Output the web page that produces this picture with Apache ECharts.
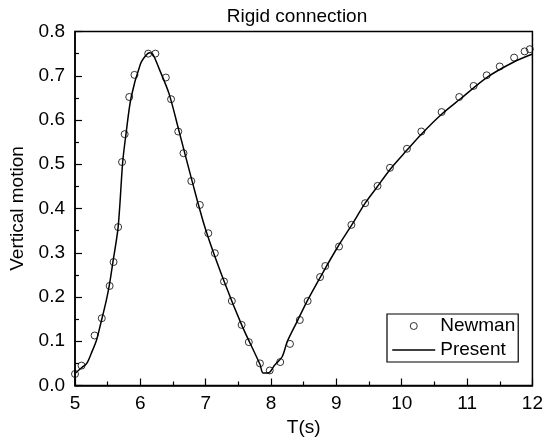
<!DOCTYPE html>
<html>
<head>
<meta charset="utf-8">
<script src="https://cdn.jsdelivr.net/npm/echarts@6/dist/echarts.min.js"></script>
<style>html,body{margin:0;padding:0;background:#fff}#c{width:546px;height:445px}</style>
</head>
<body>
<div id="c"></div>
<script>
const newmanT = [5.00,5.10,5.30,5.41,5.53,5.59,5.66,5.72,5.76,5.83,5.91,6.12,6.23,6.39,6.47,6.58,6.66,6.78,6.91,7.04,7.14,7.28,7.40,7.55,7.66,7.83,7.98,8.14,8.29,8.44,8.56,8.75,8.83,9.04,9.23,9.44,9.63,9.82,10.08,10.30,10.61,10.88,11.10,11.30,11.50,11.72,11.88,11.96];
const newmanV = [0.026,0.045,0.113,0.152,0.225,0.279,0.358,0.505,0.568,0.652,0.702,0.750,0.750,0.696,0.647,0.574,0.525,0.462,0.408,0.344,0.299,0.235,0.191,0.137,0.098,0.050,0.034,0.053,0.094,0.148,0.191,0.245,0.270,0.314,0.363,0.412,0.451,0.492,0.535,0.574,0.618,0.652,0.677,0.701,0.721,0.741,0.755,0.760];
const presentT = [5.00,5.10,5.18,5.25,5.33,5.40,5.48,5.53,5.58,5.66,5.73,5.78,5.86,6.00,6.08,6.14,6.19,6.29,6.44,6.59,6.79,7.00,7.28,7.55,7.83,7.88,7.97,8.05,8.17,8.25,8.40,8.56,8.80,9.02,9.24,9.44,9.62,9.83,10.08,10.30,10.61,10.90,11.30,11.70,12.00];
const presentV = [0.027,0.040,0.050,0.073,0.103,0.144,0.193,0.231,0.279,0.358,0.505,0.568,0.652,0.726,0.745,0.752,0.749,0.715,0.659,0.576,0.463,0.352,0.236,0.137,0.048,0.028,0.029,0.045,0.065,0.100,0.145,0.193,0.257,0.313,0.364,0.412,0.448,0.490,0.532,0.568,0.613,0.648,0.696,0.730,0.749];
const xTicks = [5,6,7,8,9,10,11,12];
const yTicks = ['0.0','0.1','0.2','0.3','0.4','0.5','0.6','0.7','0.8'];

const FONT = 'Liberation Sans, Arial, sans-serif';
const FS = 19;
const chart = echarts.init(document.getElementById('c'), null, {renderer:'canvas'});
const axisCommon = {
  axisLine:{show:true, onZero:false, lineStyle:{color:'#000', width:1.5}},
  axisTick:{show:true, inside:true, length:7, lineStyle:{color:'#000', width:1.2}},
  minorTick:{show:true, splitNumber:2, length:4, lineStyle:{color:'#000', width:1.2}},
  splitLine:{show:false},
  axisLabel:{color:'#000', fontSize:FS, fontFamily:FONT},
  nameTextStyle:{color:'#000', fontSize:FS, fontFamily:FONT}
};
chart.setOption({
  animation:false,
  backgroundColor:'#fff',
  title:{text:'Rigid connection', left:292, top:2, textAlign:'center',
    textStyle:{color:'#000', fontSize:FS, fontWeight:'normal', fontFamily:FONT}},
  grid:{left:75, right:10, top:31.5, bottom:59.5, show:true, borderColor:'#000', borderWidth:1.5, backgroundColor:'transparent'},
  legend:{
    left:387, top:314, orient:'vertical', itemWidth:43, itemHeight:7, itemGap:5,
    padding:[2.5,3,2.5,4.5], borderColor:'#000', borderWidth:1.2, backgroundColor:'#fff',
    textStyle:{color:'#000', fontSize:FS, lineHeight:19, fontFamily:FONT},
    data:[{name:'Newman', icon:'circle', itemStyle:{color:'#fff', borderColor:'#000', borderWidth:1}},
          {name:'Present', itemStyle:{opacity:0}, lineStyle:{color:'#000', width:1.5}}]
  },
  xAxis:Object.assign({}, axisCommon, {
    type:'value', min:5, max:12, interval:1, name:'T(s)', nameLocation:'middle', nameGap:26,
    axisLabel:Object.assign({}, axisCommon.axisLabel, {margin:9, formatter:v=>xTicks.includes(v)?String(v):''})
  }),
  yAxis:Object.assign({}, axisCommon, {
    type:'value', min:0, max:0.8, interval:0.1, name:'Vertical motion', nameLocation:'middle', nameGap:47,
    axisLabel:Object.assign({}, axisCommon.axisLabel, {margin:10, formatter:v=>yTicks[Math.round(v*10)]})
  }),
  series:[
    {name:'Newman', type:'scatter', symbol:'circle', symbolSize:7,
     itemStyle:{color:'rgba(255,255,255,0)', borderColor:'#000', borderWidth:1},
     data:newmanT.map((t,i)=>[t,newmanV[i]]), z:3},
    {name:'Present', type:'line', symbol:'none', showSymbol:false, smooth:0.3,
     lineStyle:{color:'#000', width:1.5}, itemStyle:{color:'#000'},
     data:presentT.map((t,i)=>[t,presentV[i]]), z:2}
  ]
});
</script>
</body>
</html>
